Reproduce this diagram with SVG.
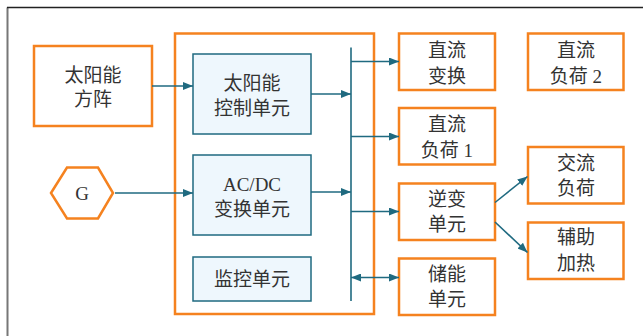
<svg xmlns="http://www.w3.org/2000/svg" width="643" height="336" viewBox="0 0 643 336">
<style>
.ob{fill:#fff;stroke:#f5821f;stroke-width:2.5}
.bb{fill:#eef7fd;stroke:#1f6a80;stroke-width:1.5}
.t{font-family:"Liberation Serif","Noto Sans CJK SC",serif;font-size:19px;fill:#333;text-anchor:middle}
.c{fill:none;stroke:#1f6a80;stroke-width:1.6}
</style>
<defs>
<marker id="ah" viewBox="0 0 10 8" refX="10" refY="4" markerWidth="10" markerHeight="8" markerUnits="userSpaceOnUse" orient="auto-start-reverse">
<path d="M0,0 L10,4 L0,8 z" fill="#1f6a80"/>
</marker>
</defs>
<rect width="643" height="336" fill="#fff"/>
<path d="M7.5,336 V7.5" stroke="#777" stroke-width="2" fill="none"/>
<path d="M7,7.5 H643" stroke="#222" stroke-width="1.5" fill="none"/>
<g id="container"><rect class="ob" x="175" y="33.5" width="199" height="280.5"/></g>
<g id="solar-array"><rect class="ob" x="34" y="46" width="118" height="80"/><text class="t" x="93" y="82">太阳能</text><text class="t" x="93" y="106">方阵</text></g>
<g id="generator"><polygon points="51,193 67,167.5 98,167.5 113,193 98,218.5 67,218.5" fill="#fff" stroke="#f5821f" stroke-width="2.5"/><text class="t" x="82" y="200">G</text></g>
<g id="solar-ctrl"><rect class="bb" x="193" y="54" width="118" height="80"/><text class="t" x="252" y="90">太阳能</text><text class="t" x="252" y="115">控制单元</text></g>
<g id="acdc"><rect class="bb" x="193" y="155" width="118" height="80"/><text class="t" x="252" y="191">AC/DC</text><text class="t" x="252" y="216">变换单元</text></g>
<g id="monitor"><rect class="bb" x="193" y="257" width="118" height="44"/><text class="t" x="252" y="286">监控单元</text></g>
<g id="dc-conv"><rect class="ob" x="399" y="33.5" width="96" height="56.5"/><text class="t" x="447" y="57">直流</text><text class="t" x="447" y="83">变换</text></g>
<g id="dc-load1"><rect class="ob" x="399" y="108" width="96" height="56.5"/><text class="t" x="447" y="131">直流</text><text class="t" x="447" y="157" xml:space="preserve">负荷 1</text></g>
<g id="inverter"><rect class="ob" x="399" y="183.5" width="96" height="56.5"/><text class="t" x="447" y="206">逆变</text><text class="t" x="447" y="231">单元</text></g>
<g id="storage"><rect class="ob" x="399" y="258.5" width="96" height="56.5"/><text class="t" x="447" y="281">储能</text><text class="t" x="447" y="306">单元</text></g>
<g id="dc-load2"><rect class="ob" x="528" y="33.5" width="95.5" height="56.5"/><text class="t" x="576" y="57">直流</text><text class="t" x="576" y="83" xml:space="preserve">负荷 2</text></g>
<g id="ac-load"><rect class="ob" x="528" y="147" width="95.5" height="56.5"/><text class="t" x="576" y="170">交流</text><text class="t" x="576" y="195">负荷</text></g>
<g id="heater"><rect class="ob" x="528" y="222.5" width="95.5" height="56.5"/><text class="t" x="576" y="244">辅助</text><text class="t" x="576" y="270">加热</text></g>
<g id="connectors">
<path class="c" d="M351,47.5 V301"/>
<path class="c" d="M152,86 H193" marker-end="url(#ah)"/>
<path class="c" d="M115,193 H193" marker-end="url(#ah)"/>
<path class="c" d="M311,94 H351" marker-end="url(#ah)"/>
<path class="c" d="M311,192 H351" marker-end="url(#ah)"/>
<path class="c" d="M351,61.5 H399" marker-end="url(#ah)"/>
<path class="c" d="M351,136.5 H399" marker-end="url(#ah)"/>
<path class="c" d="M351,211.5 H399" marker-end="url(#ah)"/>
<path class="c" d="M351,277.5 H399" marker-start="url(#ah)" marker-end="url(#ah)"/>
<path class="c" d="M495,202.5 L527.5,176.5" marker-end="url(#ah)"/>
<path class="c" d="M495,222 L527.5,252.5" marker-end="url(#ah)"/>
</g>
</svg>
